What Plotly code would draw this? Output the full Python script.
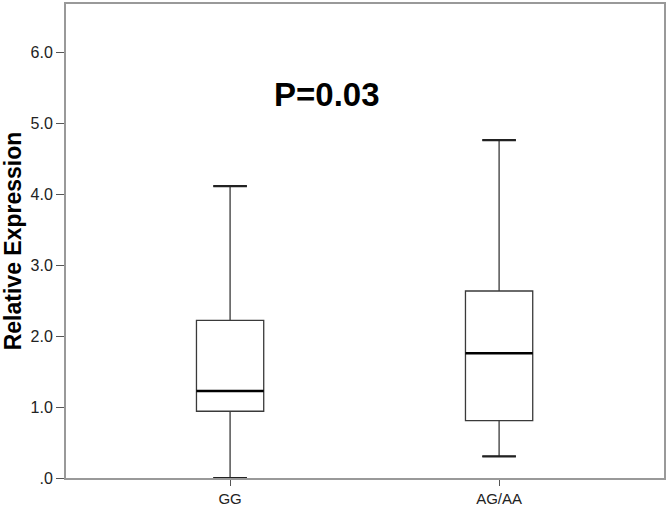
import plotly.graph_objects as go

groups = ["GG", "AG/AA"]
lower_whisker = [0.0, 0.305]
q1 = [0.94, 0.807]
median = [1.225, 1.756]
q3 = [2.22, 2.634]
upper_whisker = [4.11, 4.76]
y_ticks = [0, 1, 2, 3, 4, 5, 6]
y_tick_text = [".0", "1.0", "2.0", "3.0", "4.0", "5.0", "6.0"]
p_label = "P=0.03"

BOX_W = 0.25
CAP_W = 0.125
xs = list(range(len(groups)))

fig = go.Figure()
fig.add_trace(
    go.Box(
        x=xs,
        q1=q1,
        median=median,
        q3=q3,
        lowerfence=lower_whisker,
        upperfence=upper_whisker,
        width=BOX_W,
        whiskerwidth=0.5,
        fillcolor="white",
        line={"color": "#3a3a3a", "width": 1.3},
        hoverinfo="skip",
        showlegend=False,
    )
)

# thicker median and whisker caps, as in the SPSS output
for i in xs:
    fig.add_trace(
        go.Scatter(
            x=[i - BOX_W / 2, i + BOX_W / 2],
            y=[median[i], median[i]],
            mode="lines",
            line={"color": "black", "width": 2.6},
            showlegend=False,
        )
    )
    for v in (lower_whisker[i], upper_whisker[i]):
        fig.add_trace(
            go.Scatter(
                x=[i - CAP_W / 2, i + CAP_W / 2],
                y=[v, v],
                mode="lines",
                line={"color": "#222222", "width": 2.2},
                showlegend=False,
            )
        )

fig.add_annotation(
    x=0.362,
    y=5.40,
    text=f"<b>{p_label}</b>",
    showarrow=False,
    font={"size": 33, "color": "black", "family": "Liberation Sans, Arial"},
)

fig.update_layout(
    width=669,
    height=507,
    margin={"l": 66, "r": 5, "t": 4, "b": 29},
    paper_bgcolor="white",
    plot_bgcolor="white",
    font={"family": "Liberation Sans, Arial", "color": "#222222"},
    xaxis={
        "range": [-0.61, 1.613],
        "tickvals": xs,
        "ticktext": groups,
        "ticks": "outside",
        "ticklen": 6,
        "tickcolor": "#555555",
        "tickfont": {"size": 15},
        "showgrid": False,
        "zeroline": False,
        "showline": True,
        "linecolor": "#999999",
        "linewidth": 2,
        "mirror": True,
        "automargin": False,
    },
    yaxis={
        "range": [0, 6.676],
        "tickvals": y_ticks,
        "ticktext": y_tick_text,
        "ticks": "outside",
        "ticklen": 8,
        "tickcolor": "#555555",
        "tickfont": {"size": 16},
        "showgrid": False,
        "zeroline": False,
        "showline": True,
        "linecolor": "#999999",
        "linewidth": 2,
        "mirror": True,
        "automargin": False,
        "title": {
            "text": "<b>Relative Expression</b>",
            "font": {"size": 23, "color": "black"},
            "standoff": 10,
        },
    },
)

fig.write_html(
    "out.html",
    config={"displayModeBar": False},
    post_script="document.body.style.margin='0';",
)
